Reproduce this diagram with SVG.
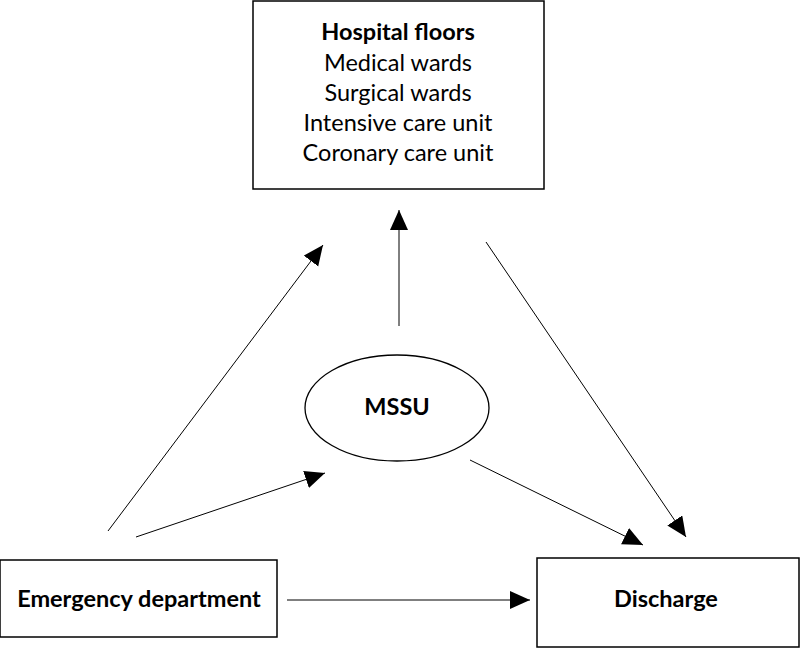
<svg xmlns="http://www.w3.org/2000/svg" width="800" height="648" viewBox="0 0 800 648">
<defs>
<style>
.box{fill:#fff;stroke:#000;stroke-width:1.5}
.t{font-family:"Lato","Open Sans","Liberation Sans",sans-serif;font-size:23.5px;fill:#000;text-anchor:middle}
.b{font-weight:bold}
.c{stroke:#000;stroke-width:1;fill:none;marker-end:url(#ah)}
</style>
<marker id="ah" markerUnits="userSpaceOnUse" markerWidth="22" markerHeight="20" refX="20" refY="9" orient="auto">
<path d="M0,0 L20,9 L0,18 z" fill="#000"/>
</marker>
</defs>
<rect width="800" height="648" fill="#fff"/>
<g id="hospital">
<rect class="box" x="253" y="1" width="291" height="188"/>
<text class="t b" x="398" y="40">Hospital floors</text>
<text class="t" x="398" y="71">Medical wards</text>
<text class="t" x="398" y="101">Surgical wards</text>
<text class="t" x="398" y="131">Intensive care unit</text>
<text class="t" x="398" y="161">Coronary care unit</text>
</g>
<g id="mssu">
<ellipse cx="397" cy="408" rx="92" ry="53" fill="#fff" stroke="#000" stroke-width="1.3"/>
<text class="t b" x="397" y="415">MSSU</text>
</g>
<g id="emergency">
<rect class="box" x="0" y="560" width="277" height="77"/>
<text class="t b" x="139" y="607">Emergency department</text>
</g>
<g id="discharge">
<rect class="box" x="537" y="558" width="262" height="89"/>
<text class="t b" x="666" y="607">Discharge</text>
</g>
<g id="connectors">
<line class="c" x1="108" y1="531" x2="323" y2="245"/>
<line class="c" x1="399" y1="326" x2="399" y2="210"/>
<line class="c" x1="136" y1="537" x2="325" y2="473"/>
<line class="c" x1="470" y1="460" x2="643" y2="545"/>
<line class="c" x1="486" y1="242" x2="686" y2="537"/>
<line class="c" x1="287" y1="600" x2="530" y2="600"/>
</g>
</svg>
